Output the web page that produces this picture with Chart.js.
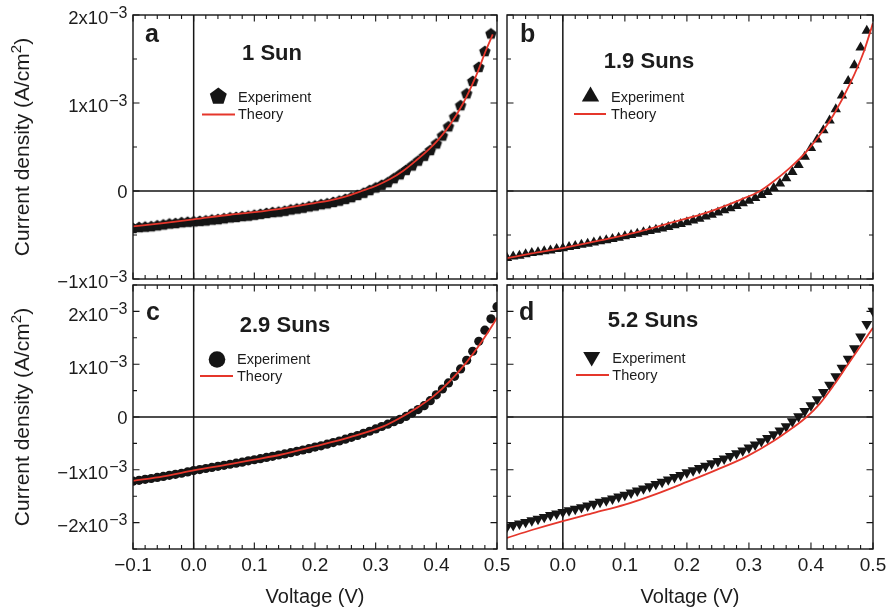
<!DOCTYPE html>
<html>
<head>
<meta charset="utf-8">
<script src="https://cdn.jsdelivr.net/npm/chart.js@4.4.1/dist/chart.umd.min.js"></script>
<style>
html,body{margin:0;padding:0;background:#fff;}
#wrap{position:relative;width:892px;height:610px;overflow:hidden;background:#fff;}
#wrap canvas{position:absolute;left:0;top:0;}
</style>
</head>
<body>
<div id="wrap">
<canvas id="pa" width="892" height="610"></canvas>
<canvas id="pb" width="892" height="610"></canvas>
<canvas id="pc" width="892" height="610"></canvas>
<canvas id="pd" width="892" height="610"></canvas>
</div>
<script>
// ---------------- DATA (current density in units of 10^-3 A/cm^2) ----------------
const voltage = [-0.10,-0.09,-0.08,-0.07,-0.06,-0.05,-0.04,-0.03,-0.02,-0.01,
  0.00,0.01,0.02,0.03,0.04,0.05,0.06,0.07,0.08,0.09,
  0.10,0.11,0.12,0.13,0.14,0.15,0.16,0.17,0.18,0.19,
  0.20,0.21,0.22,0.23,0.24,0.25,0.26,0.27,0.28,0.29,
  0.30,0.31,0.32,0.33,0.34,0.35,0.36,0.37,0.38,0.39,
  0.40,0.41,0.42,0.43,0.44,0.45,0.46,0.47,0.48,0.49,0.50];

const expA = [-0.42,-0.41,-0.405,-0.40,-0.39,-0.38,-0.37,-0.365,-0.355,-0.35,
  -0.345,-0.34,-0.335,-0.325,-0.32,-0.31,-0.30,-0.295,-0.285,-0.28,
  -0.27,-0.26,-0.25,-0.24,-0.235,-0.225,-0.21,-0.20,-0.19,-0.175,
  -0.165,-0.15,-0.14,-0.125,-0.11,-0.09,-0.07,-0.045,-0.02,0.01,
  0.04,0.07,0.10,0.145,0.19,0.24,0.29,0.345,0.40,0.465,
  0.54,0.63,0.735,0.845,0.975,1.11,1.25,1.41,1.59,1.79,null];

const expB = [null,-0.76,-0.745,-0.735,-0.72,-0.705,-0.695,-0.685,-0.675,-0.66,
  -0.65,-0.635,-0.625,-0.61,-0.60,-0.585,-0.57,-0.56,-0.545,-0.53,
  -0.515,-0.50,-0.485,-0.47,-0.455,-0.44,-0.425,-0.41,-0.39,-0.375,
  -0.355,-0.335,-0.315,-0.29,-0.27,-0.245,-0.22,-0.195,-0.17,-0.14,
  -0.11,-0.08,-0.045,-0.01,0.035,0.085,0.145,0.215,0.295,0.39,
  0.49,0.585,0.69,0.80,0.93,1.085,1.25,1.43,1.63,1.82,null];

const expC = [-1.215,-1.20,-1.18,-1.165,-1.145,-1.125,-1.105,-1.085,-1.065,-1.04,
  -1.015,-0.995,-0.975,-0.955,-0.935,-0.915,-0.895,-0.875,-0.855,-0.83,
  -0.81,-0.79,-0.765,-0.745,-0.72,-0.70,-0.675,-0.65,-0.625,-0.60,
  -0.57,-0.545,-0.515,-0.485,-0.455,-0.42,-0.385,-0.35,-0.31,-0.27,
  -0.225,-0.18,-0.135,-0.09,-0.045,0.01,0.075,0.14,0.215,0.31,
  0.42,0.53,0.645,0.77,0.91,1.075,1.245,1.435,1.645,1.86,2.09];

const expD = [null,-2.08,-2.05,-2.02,-1.99,-1.96,-1.93,-1.895,-1.86,-1.83,
  -1.80,-1.77,-1.74,-1.71,-1.68,-1.645,-1.61,-1.58,-1.545,-1.51,
  -1.475,-1.435,-1.395,-1.355,-1.315,-1.27,-1.23,-1.185,-1.14,-1.10,
  -1.05,-1.01,-0.97,-0.925,-0.88,-0.835,-0.79,-0.74,-0.69,-0.635,
  -0.58,-0.525,-0.46,-0.40,-0.33,-0.26,-0.18,-0.085,0.01,0.11,
  0.22,0.335,0.47,0.61,0.77,0.93,1.10,1.30,1.52,1.76,2.01];

const theoryVoltA = [-0.10,-0.05,0.00,0.06,0.10,0.14,0.20,0.225,0.25,0.277,0.30,0.323,0.345,0.367,0.389,0.40,0.422,0.444,0.466,0.482,0.493];
const theoryA     = [-0.403,-0.365,-0.323,-0.270,-0.240,-0.205,-0.137,-0.106,-0.064,0.0,0.057,0.133,0.228,0.349,0.482,0.558,0.747,0.994,1.317,1.602,1.78];

const theoryVoltB = [-0.09,-0.05,0.00,0.06,0.12,0.178,0.232,0.286,0.318,0.339,0.366,0.393,0.42,0.436,0.463,0.485,0.50];
const theoryB     = [-0.763,-0.71,-0.649,-0.562,-0.468,-0.353,-0.245,-0.10,0.0,0.105,0.262,0.45,0.69,0.86,1.22,1.58,1.91];

const theoryVoltC = [-0.10,-0.05,0.00,0.06,0.10,0.143,0.20,0.258,0.3125,0.34,0.367,0.395,0.422,0.45,0.4715,0.488,0.50];
const theoryC     = [-1.21,-1.125,-1.012,-0.892,-0.807,-0.715,-0.554,-0.38,-0.178,-0.02,0.165,0.39,0.675,1.04,1.372,1.657,1.88];

const theoryVoltD = [-0.09,-0.05,0.00,0.05,0.10,0.15,0.20,0.242,0.296,0.339,0.371,0.393,0.414,0.436,0.457,0.479,0.50];
const theoryD     = [-2.29,-2.14,-1.97,-1.815,-1.66,-1.46,-1.23,-1.03,-0.75,-0.46,-0.20,0.0,0.25,0.59,0.95,1.33,1.69];

const xTickValues = [-0.1,0.0,0.1,0.2,0.3,0.4,0.5];
const xTickLabels = ['\u22120.1','0.0','0.1','0.2','0.3','0.4','0.5'];
const yTickValuesTop = [-1,0,1,2];
const yTickLabelsTop = [['\u22121x10','\u22123'],['0',''],['1x10','\u22123'],['2x10','\u22123']];
const yTickValuesBottom = [-2,-1,0,1,2];
const yTickLabelsBottom = [['\u22122x10','\u22123'],['\u22121x10','\u22123'],['0',''],['1x10','\u22123'],['2x10','\u22123']];
const panelLetters = ['a','b','c','d'];
const panelTitles = ['1 Sun','1.9 Suns','2.9 Suns','5.2 Suns'];
const legendLabels = ['Experiment','Theory'];
const xAxisTitle = 'Voltage (V)';
const yAxisTitle = ['Current density (A/cm','2',')'];

// ---------------- STYLE ----------------
const FONT = '"Liberation Sans", Arial, Helvetica, sans-serif';
const INK = '#151515';
const TEXT = '#1c1c1c';
const RED = '#e5362b';

function pentagonPath(ctx, x, y, R) {
  ctx.beginPath();
  for (let i = 0; i < 5; i++) {
    const ang = -Math.PI / 2 + i * 2 * Math.PI / 5;
    const px = x + R * Math.cos(ang), py = y + R * Math.sin(ang);
    if (i === 0) ctx.moveTo(px, py); else ctx.lineTo(px, py);
  }
  ctx.closePath();
}
function drawMarker(ctx, kind, x, y, r) {
  ctx.fillStyle = INK;
  if (kind === 'pentagon') { pentagonPath(ctx, x, y, r); }
  else if (kind === 'circle') { ctx.beginPath(); ctx.arc(x, y, r, 0, Math.PI * 2); }
  else {
    const base = kind === 'triangleDown' ? Math.PI / 2 : -Math.PI / 2;
    ctx.beginPath();
    for (let i = 0; i < 3; i++) {
      const ang = base + i * 2 * Math.PI / 3;
      const px = x + r * Math.cos(ang), py = y + r * Math.sin(ang);
      if (i === 0) ctx.moveTo(px, py); else ctx.lineTo(px, py);
    }
    ctx.closePath();
  }
  ctx.fill();
}
const pentagonImg = (function () {
  const c = document.createElement('canvas');
  c.width = 14; c.height = 14;
  const g = c.getContext('2d');
  g.fillStyle = INK;
  pentagonPath(g, 7, 7.5, 6);
  g.fill();
  return c;
})();

const panels = [
  { id: 'pa', box: [133, 15, 497, 279], x: [-0.1, 0.5], y: [-1, 2], exp: expA, thV: theoryVoltA, thJ: theoryA,
    marker: 'pentagon', pointStyle: pentagonImg, pointRadius: 5.5, rotation: 0,
    letter: 0, letterPos: [145, 42], titlePos: [272, 60],
    legend: { marker: [218.3, 96.5], markerR: 8.9, text1: [238, 98], line: [202, 235, 114.5], text2: [238, 115] },
    yTicks: yTickValuesTop, yLabels: yTickLabelsTop, showY: true, showX: false },
  { id: 'pb', box: [507, 15, 873, 279], x: [-0.09, 0.5], y: [-1, 2], exp: expB, thV: theoryVoltB, thJ: theoryB,
    marker: 'triangleUp', pointStyle: 'triangle', pointRadius: 6, rotation: 0,
    letter: 1, letterPos: [520, 42], titlePos: [649, 68],
    legend: { marker: [590.5, 96.5], markerR: 10, text1: [611, 97.5], line: [574, 606, 114], text2: [611, 114.5] },
    yTicks: yTickValuesTop, yLabels: yTickLabelsTop, showY: false, showX: false },
  { id: 'pc', box: [133, 285, 497, 549], x: [-0.1, 0.5], y: [-2.5, 2.5], exp: expC, thV: theoryVoltC, thJ: theoryC,
    marker: 'circle', pointStyle: 'circle', pointRadius: 4.6, rotation: 0,
    letter: 2, letterPos: [146, 320], titlePos: [285, 332],
    legend: { marker: [217, 359.5], markerR: 8.3, text1: [237, 359.5], line: [200, 233, 376], text2: [237, 376.5] },
    yTicks: yTickValuesBottom, yLabels: yTickLabelsBottom, showY: true, showX: true },
  { id: 'pd', box: [507, 285, 873, 549], x: [-0.09, 0.5], y: [-2.5, 2.5], exp: expD, thV: theoryVoltD, thJ: theoryD,
    marker: 'triangleDown', pointStyle: 'triangle', pointRadius: 6.3, rotation: 180,
    letter: 3, letterPos: [519, 319.5], titlePos: [653, 327],
    legend: { marker: [591.7, 356.8], markerR: 9.8, text1: [612.3, 358.5], line: [576, 609, 375], text2: [612.3, 375.5] },
    yTicks: yTickValuesBottom, yLabels: yTickLabelsBottom, showY: false, showX: true }
];

function makePlugin(p) {
  return {
    id: 'panelDeco_' + p.id,
    beforeDatasetsDraw(chart) {
      const ctx = chart.ctx, xs = chart.scales.x, ys = chart.scales.y, a = chart.chartArea;
      ctx.save();
      ctx.strokeStyle = INK;
      ctx.lineWidth = 1.5;
      const x0 = xs.getPixelForValue(0), y0 = ys.getPixelForValue(0);
      ctx.beginPath();
      ctx.moveTo(x0, a.top); ctx.lineTo(x0, a.bottom);
      ctx.moveTo(a.left, y0); ctx.lineTo(a.right, y0);
      ctx.stroke();
      ctx.lineWidth = 1.1;
      ctx.beginPath();
      const kx0 = Math.ceil(xs.min / 0.02 - 1e-6), kx1 = Math.floor(xs.max / 0.02 + 1e-6);
      for (let k = kx0; k <= kx1; k++) {
        const v = k * 0.02;
        const major = Math.abs(v * 10 - Math.round(v * 10)) < 1e-6;
        const len = major ? 6.5 : 4;
        const px = xs.getPixelForValue(v);
        ctx.moveTo(px, a.bottom); ctx.lineTo(px, a.bottom - len);
        ctx.moveTo(px, a.top); ctx.lineTo(px, a.top + len);
      }
      const ky0 = Math.ceil(ys.min / 0.5 - 1e-6), ky1 = Math.floor(ys.max / 0.5 + 1e-6);
      for (let k = ky0; k <= ky1; k++) {
        const v = k * 0.5;
        const major = Math.abs(v - Math.round(v)) < 1e-6;
        const len = major ? 6.5 : 4;
        const py = ys.getPixelForValue(v);
        ctx.moveTo(a.left, py); ctx.lineTo(a.left + len, py);
        ctx.moveTo(a.right, py); ctx.lineTo(a.right - len, py);
      }
      ctx.stroke();
      ctx.restore();
    },
    afterDatasetsDraw(chart) {
      const ctx = chart.ctx, a = chart.chartArea;
      ctx.save();
      ctx.strokeStyle = INK;
      ctx.lineWidth = 1.4;
      ctx.strokeRect(a.left, a.top, a.right - a.left, a.bottom - a.top);
      ctx.restore();
    },
    afterDraw(chart) {
      const ctx = chart.ctx, xs = chart.scales.x, ys = chart.scales.y, a = chart.chartArea;
      ctx.save();
      ctx.fillStyle = TEXT;
      ctx.textBaseline = 'alphabetic';
      ctx.font = 'bold 25px ' + FONT;
      ctx.textAlign = 'left';
      ctx.fillText(panelLetters[p.letter], p.letterPos[0], p.letterPos[1]);
      ctx.font = 'bold 22px ' + FONT;
      ctx.textAlign = 'center';
      ctx.fillText(panelTitles[p.letter], p.titlePos[0], p.titlePos[1]);
      const L = p.legend;
      drawMarker(ctx, p.marker, L.marker[0], L.marker[1], L.markerR);
      ctx.strokeStyle = RED; ctx.lineWidth = 2;
      ctx.beginPath(); ctx.moveTo(L.line[0], L.line[2]); ctx.lineTo(L.line[1], L.line[2]); ctx.stroke();
      ctx.fillStyle = TEXT;
      ctx.font = '14.5px ' + FONT;
      ctx.textAlign = 'left'; ctx.textBaseline = 'middle';
      ctx.fillText(legendLabels[0], L.text1[0], L.text1[1]);
      ctx.fillText(legendLabels[1], L.text2[0], L.text2[1]);
      ctx.textBaseline = 'alphabetic';
      if (p.showX) {
        ctx.font = '19px ' + FONT;
        ctx.textAlign = 'center';
        xTickValues.forEach((v, i) => {
          if (v < xs.min - 1e-9 || v > xs.max + 1e-9) return;
          ctx.fillText(xTickLabels[i], xs.getPixelForValue(v), 571);
        });
        ctx.font = '20px ' + FONT;
        ctx.fillText(xAxisTitle, (a.left + a.right) / 2, 603);
      }
      if (p.showY) {
        const xr = 127.5;
        p.yTicks.forEach((v, i) => {
          const py = ys.getPixelForValue(v);
          const main = p.yLabels[i][0], sup = p.yLabels[i][1];
          ctx.textAlign = 'left';
          ctx.font = '16px ' + FONT;
          const ws = sup ? ctx.measureText(sup).width + 1 : 0;
          ctx.font = '18.5px ' + FONT;
          const wm = ctx.measureText(main).width;
          if (sup) {
            ctx.fillText(main, xr - ws - wm, py + 9.3);
            ctx.font = '16px ' + FONT;
            ctx.fillText(sup, xr - ws + 1, py + 2.6);
          } else {
            ctx.fillText(main, xr - wm, py + 6.8);
          }
        });
        ctx.save();
        ctx.translate(23, (a.top + a.bottom) / 2);
        ctx.rotate(-Math.PI / 2);
        ctx.font = '21px ' + FONT;
        const w1 = ctx.measureText(yAxisTitle[0]).width, w3 = ctx.measureText(yAxisTitle[2]).width;
        ctx.font = '15px ' + FONT;
        const w2 = ctx.measureText(yAxisTitle[1]).width;
        let tx = -(w1 + w2 + w3) / 2;
        ctx.textAlign = 'left'; ctx.textBaseline = 'middle';
        ctx.font = '21px ' + FONT; ctx.fillText(yAxisTitle[0], tx, 0); tx += w1;
        ctx.font = '15px ' + FONT; ctx.fillText(yAxisTitle[1], tx, -6.5); tx += w2;
        ctx.font = '21px ' + FONT; ctx.fillText(yAxisTitle[2], tx, 0);
        ctx.restore();
      }
      ctx.restore();
    }
  };
}

panels.forEach(p => {
  const expPoints = voltage.map((v, i) => ({ x: v, y: p.exp[i] })).filter(pt => pt.y !== null);
  const thPoints = p.thV.map((v, i) => ({ x: v, y: p.thJ[i] }));
  new Chart(document.getElementById(p.id), {
    type: 'scatter',
    data: {
      datasets: [
        { label: 'Theory', data: thPoints, showLine: true, pointRadius: 0, borderColor: RED, borderWidth: 1.8,
          cubicInterpolationMode: 'monotone', fill: false, clip: 0 },
        { label: 'Experiment', data: expPoints, showLine: false, pointStyle: p.pointStyle, pointRadius: p.pointRadius,
          rotation: p.rotation, backgroundColor: INK, borderColor: INK, borderWidth: 0, clip: 0 }
      ]
    },
    options: {
      responsive: false, animation: false, devicePixelRatio: 1,
      layout: { padding: { left: p.box[0], top: p.box[1], right: 892 - p.box[2], bottom: 610 - p.box[3] } },
      plugins: { legend: { display: false }, tooltip: { enabled: false } },
      scales: {
        x: { type: 'linear', min: p.x[0], max: p.x[1], display: false },
        y: { type: 'linear', min: p.y[0], max: p.y[1], display: false }
      }
    },
    plugins: [makePlugin(p)]
  });
});
</script>
</body>
</html>
